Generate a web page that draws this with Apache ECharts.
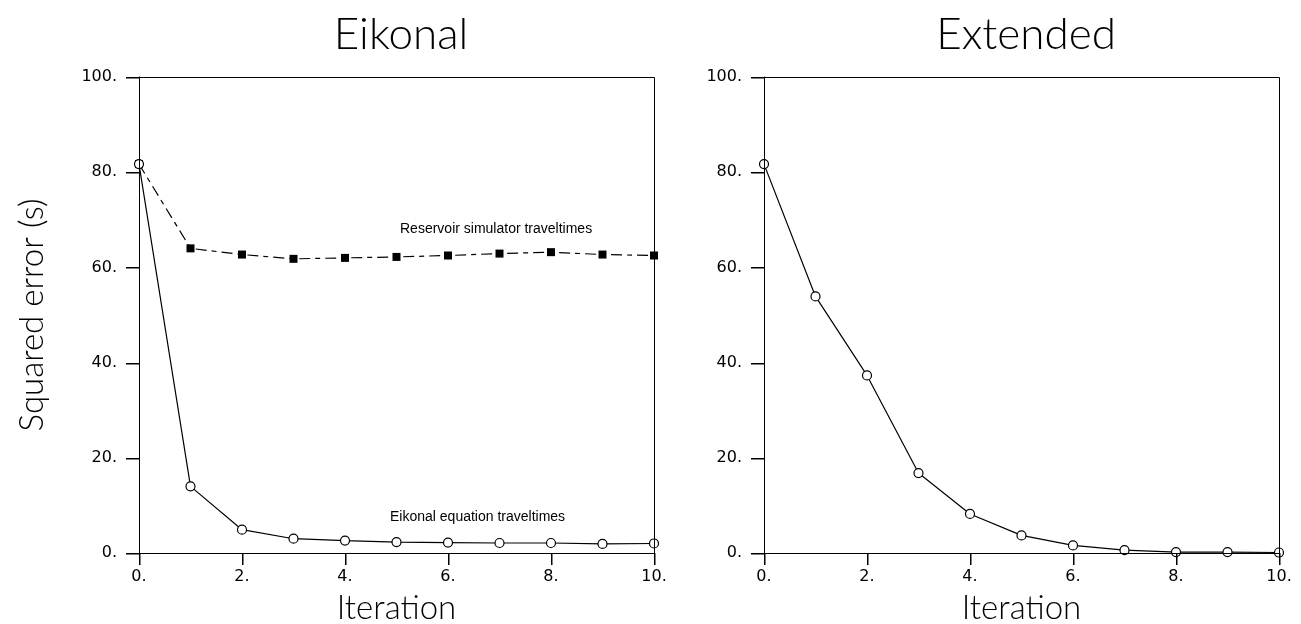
<!DOCTYPE html>
<html>
<head>
<meta charset="utf-8">
<script src="https://cdn.jsdelivr.net/npm/echarts@6/dist/echarts.min.js"></script>
<style>
  html, body { margin: 0; padding: 0; background: #fff; }
  #chart { width: 1301px; height: 624px; }
</style>
</head>
<body>
<div id="chart"></div>
<script>
const iterations = [0, 1, 2, 3, 4, 5, 6, 7, 8, 9, 10];
// left panel
const reservoirErr = [81.7, 64.0, 62.7, 61.8, 62.0, 62.2, 62.5, 62.9, 63.2, 62.7, 62.5];
const eikonalErr = [81.7, 14.0, 4.9, 3.0, 2.6, 2.3, 2.2, 2.1, 2.1, 1.9, 2.0];
// right panel
const extendedErr = [81.7, 53.9, 37.3, 16.8, 8.2, 3.7, 1.6, 0.6, 0.2, 0.2, 0.1];

const xTicks = [0, 2, 4, 6, 8, 10];
const yTicks = [0, 20, 40, 60, 80, 100];
const panelTitles = ['Eikonal', 'Extended'];
const geoFont = 'Lato';
const tickFont = 'DejaVu Sans';

function pairs(ys) {
  return iterations.map((x, i) => [x, ys[i]]);
}

function xAxisFor(idx) {
  return {
    type: 'value',
    gridIndex: idx,
    min: 0,
    max: 10,
    interval: 2,
    name: 'Iteration',
    nameLocation: 'middle',
    nameGap: 39,
    nameTextStyle: { fontFamily: geoFont, fontSize: 33, color: '#000', fontWeight: 300 },
    axisLine: { show: true, lineStyle: { color: '#000', width: 1 } },
    axisTick: { show: false },
    axisLabel: { formatter: v => v + '.', fontFamily: tickFont, fontSize: 16, color: '#000', margin: 16 },
    splitLine: { show: false }
  };
}

function yAxisFor(idx, withName) {
  return {
    type: 'value',
    gridIndex: idx,
    min: 0,
    max: 100,
    interval: 20,
    name: withName ? 'Squared error (s)' : '',
    nameLocation: 'middle',
    nameGap: 90,
    nameTextStyle: { fontFamily: geoFont, fontSize: 33, color: '#000', fontWeight: 300 },
    axisLine: { show: true, lineStyle: { color: '#000', width: 1 } },
    axisTick: { show: false },
    axisLabel: { formatter: v => v + '.', fontFamily: tickFont, fontSize: 16, color: '#000', margin: 22 },
    splitLine: { show: false }
  };
}

const notes = [
  {
    type: 'text', left: 400, top: 222,
    style: { text: 'Reservoir simulator traveltimes', font: '14px "Liberation Sans", Arial', fill: '#000' }
  },
  {
    type: 'text', left: 390, top: 510,
    style: { text: 'Eikonal equation traveltimes', font: '14px "Liberation Sans", Arial', fill: '#000' }
  }
];

let chart = echarts.init(document.getElementById('chart'));
let option = {
  animation: false,
  title: [
    {
      text: panelTitles[0],
      left: 396, top: 8, textAlign: 'center',
      textStyle: { fontFamily: geoFont, fontSize: 44, fontWeight: 300, color: '#000' }
    },
    {
      text: panelTitles[1],
      left: 1021, top: 8, textAlign: 'center',
      textStyle: { fontFamily: geoFont, fontSize: 44, fontWeight: 300, color: '#000' }
    }
  ],
  grid: [
    { left: 139, top: 77, width: 515, height: 476, outerBoundsMode: 'none' },
    { left: 764, top: 77, width: 515, height: 476, outerBoundsMode: 'none' }
  ],
  xAxis: [xAxisFor(0), xAxisFor(1)],
  yAxis: [yAxisFor(0, true), yAxisFor(1, false)],
  graphic: notes,
  series: [
    {
      name: 'Reservoir simulator traveltimes',
      type: 'line',
      xAxisIndex: 0, yAxisIndex: 0,
      data: pairs(reservoirErr),
      symbol: 'rect',
      symbolSize: 8,
      itemStyle: { color: '#000' },
      lineStyle: { color: '#000', width: 1.2, type: [11, 5, 5, 5] }
    },
    {
      name: 'Eikonal equation traveltimes',
      type: 'line',
      xAxisIndex: 0, yAxisIndex: 0,
      data: pairs(eikonalErr),
      symbol: 'circle',
      symbolSize: 9,
      itemStyle: { color: '#fff', borderColor: '#000', borderWidth: 1.2 },
      lineStyle: { color: '#000', width: 1.2 }
    },
    {
      name: 'Extended',
      type: 'line',
      xAxisIndex: 1, yAxisIndex: 1,
      data: pairs(extendedErr),
      symbol: 'circle',
      symbolSize: 9,
      itemStyle: { color: '#fff', borderColor: '#000', borderWidth: 1.2 },
      lineStyle: { color: '#000', width: 1.2 }
    }
  ]
};
chart.setOption(option);

// box frame and outward ticks (thin filled rects), placed through the axes' own scales
let frameMarks = [];
[0, 1].forEach(g => {
  let yBottom = Math.round(chart.convertToPixel({ yAxisIndex: g }, 0));
  let yTop = Math.round(chart.convertToPixel({ yAxisIndex: g }, 100));
  let xLeft = Math.round(chart.convertToPixel({ xAxisIndex: g }, 0));
  let xRight = Math.round(chart.convertToPixel({ xAxisIndex: g }, 10));
  frameMarks.push({
    type: 'rect', silent: true, z: 5,
    shape: { x: xLeft + 0.5, y: yTop + 0.5, width: xRight - xLeft, height: yBottom - yTop },
    style: { fill: 'transparent', stroke: '#000', lineWidth: 1 }
  });
  xTicks.forEach(v => {
    let px = Math.round(chart.convertToPixel({ xAxisIndex: g }, v));
    frameMarks.push({
      type: 'rect', silent: true, z: 5,
      shape: { x: px, y: yBottom, width: 1.5, height: 12 },
      style: { fill: '#000' }
    });
  });
  yTicks.forEach(v => {
    let py = Math.round(chart.convertToPixel({ yAxisIndex: g }, v));
    frameMarks.push({
      type: 'rect', silent: true, z: 5,
      shape: { x: xLeft - 13, y: py, width: 13, height: 1.5 },
      style: { fill: '#000' }
    });
  });
});
chart.setOption({ graphic: notes.concat(frameMarks) });
</script>
</body>
</html>
